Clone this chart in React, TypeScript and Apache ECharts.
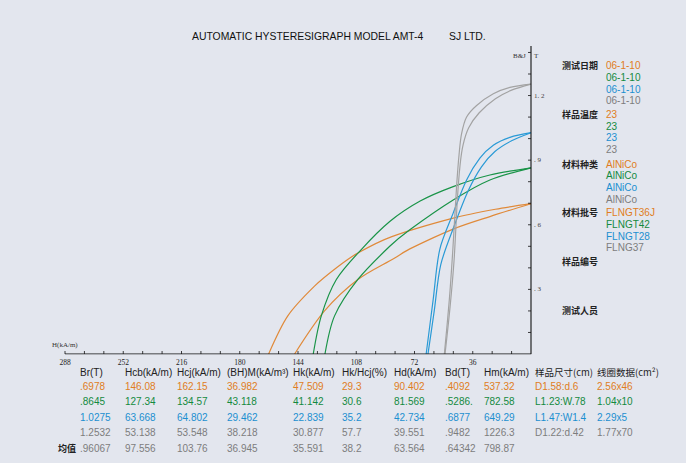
import React, { useEffect, useRef } from "react";
import * as echarts from "echarts";

// ---- curve data: [H (kA/m), B or J (T)] ----
const orangeJ = [[162.15, 0], [150.3, 0.177], [133.8, 0.315], [119.4, 0.405], [107.0, 0.469], [86.0, 0.545], [48.1, 0.631], [22, 0.672], [0, 0.6978]];
const orangeB = [[146.08, 0], [127.6, 0.2], [107.0, 0.346], [84.2, 0.446], [74.9, 0.488], [48.1, 0.58], [25.4, 0.638], [0, 0.6978]];
const greenJ = [[134.57, 0], [129.6, 0.177], [120.3, 0.346], [104.9, 0.485], [87.3, 0.615], [68.5, 0.71], [48.1, 0.777], [25.4, 0.831], [0, 0.8645]];
const greenB = [[127.34, 0], [121.4, 0.177], [107.0, 0.346], [87.3, 0.5], [74.9, 0.577], [48.1, 0.715], [25.4, 0.808], [0, 0.8645]];
const blueJ = [[64.8, 0], [60.5, 0.25], [56.4, 0.485], [48.1, 0.654], [39.8, 0.808], [31.6, 0.909], [23.3, 0.969], [13, 1.006], [0, 1.0275]];
const blueB = [[63.67, 0], [59.8, 0.2], [55.8, 0.414], [47.5, 0.594], [38.8, 0.758], [30.6, 0.869], [22.3, 0.94], [12, 0.99], [0, 1.0275]];
const grayJ = [[53.55, 0], [50.5, 0.25], [48.3, 0.485], [46.0, 0.777], [44.4, 0.931], [42.9, 1.023], [39.8, 1.1], [33.6, 1.154], [23.3, 1.208], [13, 1.238], [0, 1.2532]];
const grayB = [[53.14, 0], [50.0, 0.22], [47.5, 0.44], [45.5, 0.72], [43.8, 0.88], [42.0, 0.97], [38.5, 1.05], [32.0, 1.12], [22.0, 1.185], [12.0, 1.225], [0, 1.2532]];

// ---- axes ----
const H_MAX = 288;
const H_STEP = 12;
const B_MAX = 1.43;
const B_STEP = 0.1;

// ---- legend values ----
const seriesColors = ["#e07d22", "#138a3e", "#1b8fd0", "#7d7d7d"];
const lineColors = ["#e08a3a", "#1a9448", "#2a9ad6", "#a3a3a3"];
const testDates = ["06-1-10", "06-1-10", "06-1-10", "06-1-10"];
const sampleTemps = ["23", "23", "23", "23"];
const materials = ["AlNiCo", "AlNiCo", "AlNiCo", "AlNiCo"];
const batches = ["FLNGT36J", "FLNGT42", "FLNGT28", "FLNG37"];

// ---- table ----
const tableHeaders = ["Br(T)", "Hcb(kA/m)", "Hcj(kA/m)", "(BH)M(kA/m³)", "Hk(kA/m)", "Hk/Hcj(%)", "Hd(kA/m)", "Bd(T)", "Hm(kA/m)", "样品尺寸(cm)", "线圈数据(cm²)"];
const rowOrange = [".6978", "146.08", "162.15", "36.982", "47.509", "29.3", "90.402", ".4092", "537.32", "D1.58:d.6", "2.56x46"];
const rowGreen = [".8645", "127.34", "134.57", "43.118", "41.142", "30.6", "81.569", ".5286.", "782.58", "L1.23:W.78", "1.04x10"];
const rowBlue = ["1.0275", "63.668", "64.802", "29.462", "22.839", "35.2", "42.734", ".6877", "649.29", "L1.47:W1.4", "2.29x5"];
const rowGray = ["1.2532", "53.138", "53.548", "38.218", "30.877", "57.7", "39.551", ".9482", "1226.3", "D1.22:d.42", "1.77x70"];
const rowMean = [".96067", "97.556", "103.76", "36.945", "35.591", "38.2", "63.564", ".64342", "798.87"];

const colX = [80, 125, 177, 227, 293, 342, 394, 445, 484, 535, 597];
const rowY = [386, 401.7, 417.3, 432.3];

const SANS = "Arial, 'Liberation Sans', Helvetica, sans-serif";
const CJK = "'Noto Sans CJK SC', sans-serif";
const SERIF = "'Times New Roman', 'Liberation Serif', serif";

function txt(text: string, x: number, y: number, fill: string, fontSize: number, fontFamily: string, fontWeight = "normal") {
  return {
    type: "text",
    x,
    y,
    silent: true,
    style: { text, fill, fontSize, fontFamily, fontWeight, textAlign: "left", textVerticalAlign: "middle" },
  };
}

export default function App() {
  const ref = useRef<HTMLDivElement>(null);
  useEffect(() => {
    if (!ref.current) return;
    const chart = echarts.init(ref.current, null, { renderer: "svg" });

    const curves = [
      [orangeJ, 0], [orangeB, 0], [greenJ, 1], [greenB, 1], [blueJ, 2], [blueB, 2], [grayJ, 3], [grayB, 3],
    ] as [number[][], number][];

    // axis frame drawn through the chart's own scales
    const xTicks: number[][] = [];
    for (let h = H_STEP; h <= H_MAX; h += H_STEP) xTicks.push([h, 0]);
    const yTicks: number[][] = [];
    for (let k = 1; k * B_STEP <= B_MAX + 1e-9; k++) yTicks.push([0, +(k * B_STEP).toFixed(2)]);

    const graphics: any[] = [];
    graphics.push(txt("AUTOMATIC HYSTERESIGRAPH MODEL AMT-4", 192, 36, "#111", 10.4, SANS));
    graphics.push(txt("SJ LTD.", 449, 36, "#111", 10.4, SANS));
    graphics.push(txt("B&J", 513, 56, "#333", 7, SERIF));
    graphics.push(txt("T", 534, 56, "#333", 7, SERIF));
    graphics.push(txt("H(kA/m)", 52, 345, "#333", 7, SERIF));

    const blocks: [string, number, string[] | null][] = [
      ["测试日期", 65.7, testDates],
      ["样品温度", 114.3, sampleTemps],
      ["材料种类", 164, materials],
      ["材料批号", 212.7, batches],
      ["样品编号", 261.7, null],
      ["测试人员", 310.7, null],
    ];
    blocks.forEach(([label, y, vals]) => {
      graphics.push(txt(label, 562, y, "#222", 9, CJK, "bold"));
      if (vals) vals.forEach((v, i) => graphics.push(txt(v, 606, y + i * 11.7, seriesColors[i], 10, SANS)));
    });

    const TS = 10;
    tableHeaders.forEach((h, i) => graphics.push(txt(h, colX[i], 372, "#222", i >= 9 ? 9.5 : TS, i >= 9 ? CJK : SANS)));
    [rowOrange, rowGreen, rowBlue, rowGray].forEach((row, r) => {
      row.forEach((v, i) => graphics.push(txt(v, colX[i], rowY[r], seriesColors[r], TS, SANS)));
    });
    graphics.push(txt("均值", 58, 448.3, "#222", 9, CJK, "bold"));
    rowMean.forEach((v, i) => graphics.push(txt(v, colX[i], 448.3, "#7d7d7d", TS, SANS)));

    chart.setOption({
      animation: false,
      backgroundColor: "#e3e6ee",
      grid: { left: 65, right: 155, top: 46, bottom: 109 },
      xAxis: {
        type: "value",
        inverse: true,
        min: 0,
        max: H_MAX,
        interval: H_STEP,
        axisLine: { show: false },
        axisTick: { show: false },
        splitLine: { show: false },
        axisLabel: {
          margin: 4,
          fontSize: 7.5,
          fontFamily: SERIF,
          color: "#222",
          formatter: (v: number) => (v % 36 === 0 && v !== 0 ? String(v) : ""),
        },
      },
      yAxis: {
        type: "value",
        position: "right",
        min: 0,
        max: B_MAX,
        interval: B_STEP,
        axisLine: { show: false },
        axisTick: { show: false },
        splitLine: { show: false },
        axisLabel: {
          margin: 3,
          fontSize: 7,
          fontFamily: SERIF,
          color: "#444",
          formatter: (v: number) => {
            const k = Math.round(v * 10);
            if (k <= 0 || k % 3 !== 0 || Math.abs(v * 10 - k) > 1e-6) return "";
            return k < 10 ? ". " + k : Math.floor(k / 10) + ". " + (k % 10);
          },
        },
      },
      series: [
        ...curves.map(([d, c]) => ({
          type: "line",
          data: d,
          showSymbol: false,
          smooth: 0.3,
          silent: true,
          lineStyle: { color: lineColors[c], width: 1.2 },
        })),
        {
          type: "line",
          data: [[H_MAX, 0], [0, 0], [0, B_MAX]],
          showSymbol: false,
          silent: true,
          z: 5,
          lineStyle: { color: "#111", width: 1.1 },
        },
        {
          type: "scatter",
          data: xTicks,
          symbol: "rect",
          symbolSize: [1, 3],
          symbolOffset: [0, -1.5],
          silent: true,
          z: 5,
          itemStyle: { color: "#111" },
        },
        {
          type: "scatter",
          data: yTicks,
          symbol: "rect",
          symbolSize: [3, 1],
          symbolOffset: [-1.5, 0],
          silent: true,
          z: 5,
          itemStyle: { color: "#111" },
        },
      ],
      graphic: graphics,
    });
    return () => chart.dispose();
  }, []);

  return (
    <div
      ref={ref}
      style={{ position: "fixed", left: 0, top: 0, width: 686, height: 463, background: "#e3e6ee" }}
    />
  );
}
